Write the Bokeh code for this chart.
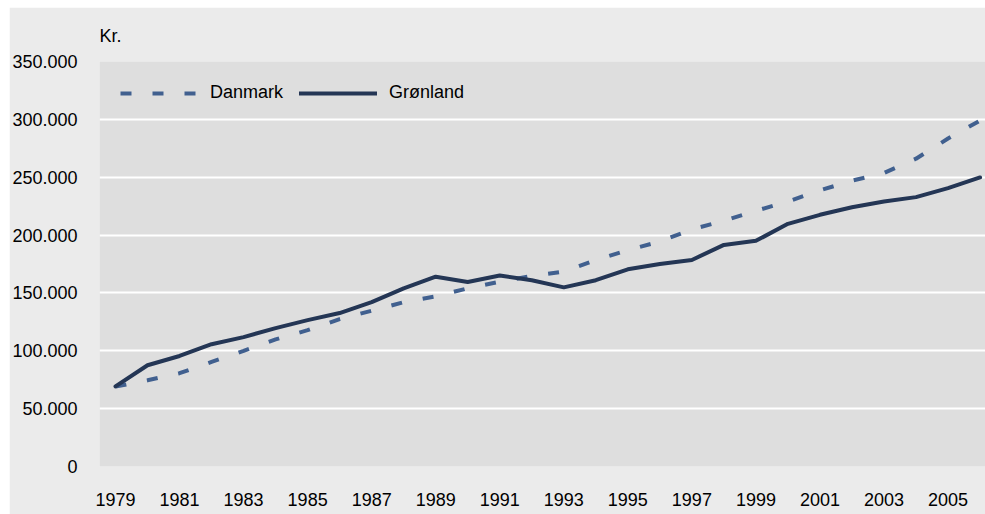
from bokeh.plotting import figure
from bokeh.models import FixedTicker, Range1d, Legend, LegendItem, ColumnDataSource, Spacer
from bokeh.layouts import column, row
from bokeh.embed import file_html
from bokeh.resources import INLINE

years = list(range(1979, 2007))
danmark = [69000, 74500, 80600, 90400, 100000, 109800, 117800, 127400, 134600, 142000,
           147000, 154000, 159700, 164600, 168400, 178500, 187000, 194400, 205000, 212300,
           221000, 229000, 238600, 247000, 253600, 266000, 283400, 299000]
groenland = [69300, 87500, 95500, 105700, 111800, 119600, 126500, 132600, 142000, 154000,
             164000, 159400, 165000, 161000, 154800, 161000, 170400, 175000, 178500, 191500,
             195000, 209700, 217500, 224000, 229000, 232800, 240600, 249800]
y_ticks = [0, 50000, 100000, 150000, 200000, 250000, 300000, 350000]
y_tick_labels = ["0", "50.000", "100.000", "150.000", "200.000", "250.000", "300.000", "350.000"]
x_ticks = list(range(1979, 2006, 2))
x_tick_labels = [str(y) for y in x_ticks]
unit_label = "Kr."

FONT = "Liberation Sans"
BG = "#ebebeb"
PLOT_BG = "#dedede"

p = figure(width=976, height=507, output_backend="svg", toolbar_location=None,
           x_range=Range1d(1978.5, 2006.17), y_range=Range1d(0, 350000),
           min_border_left=83, min_border_right=0, min_border_top=50, min_border_bottom=48,
           title=unit_label)
p.background_fill_color = PLOT_BG
p.border_fill_color = BG
p.outline_line_color = None

p.title.text_font = FONT
p.title.text_font_size = "18px"
p.title.text_font_style = "normal"
p.title.text_color = "black"
p.title.align = "left"
p.title.standoff = 32

src = ColumnDataSource(dict(year=years, dk=danmark, gl=groenland))
r_dk = p.line("year", "dk", source=src, line_color="#41608f", line_width=4,
              line_dash="11 21")
r_gl = p.line("year", "gl", source=src, line_color="#243655", line_width=4,
              line_cap="round", line_join="round")

p.xgrid.grid_line_color = None
p.ygrid.grid_line_color = "white"
p.ygrid.grid_line_width = 2

p.yaxis.ticker = FixedTicker(ticks=y_ticks)
p.yaxis.major_label_overrides = {t: l for t, l in zip(y_ticks, y_tick_labels)}
p.xaxis.ticker = FixedTicker(ticks=x_ticks)
p.xaxis.major_label_overrides = {t: l for t, l in zip(x_ticks, x_tick_labels)}

for ax in (p.xaxis, p.yaxis):
    ax.axis_line_color = None
    ax.major_tick_line_color = None
    ax.minor_tick_line_color = None
    ax.major_label_text_font = FONT
    ax.major_label_text_font_size = "18px"
    ax.major_label_text_color = "black"
p.xaxis.major_label_standoff = 20
p.yaxis.major_label_standoff = 16

legend = Legend(items=[LegendItem(label="Danmark", renderers=[r_dk]),
                       LegendItem(label="Grønland", renderers=[r_gl])],
                location="top_left", orientation="horizontal")
legend.background_fill_alpha = 0
legend.border_line_alpha = 0
legend.label_text_font = FONT
legend.label_text_font_size = "18px"
legend.label_text_color = "black"
legend.glyph_width = 78
legend.label_standoff = 12
legend.spacing = 16
legend.margin = 11
legend.padding = 10
p.add_layout(legend, "center")

layout = column(Spacer(height=7), row(Spacer(width=9), p))
open("out.html", "w").write(file_html(layout, INLINE))
